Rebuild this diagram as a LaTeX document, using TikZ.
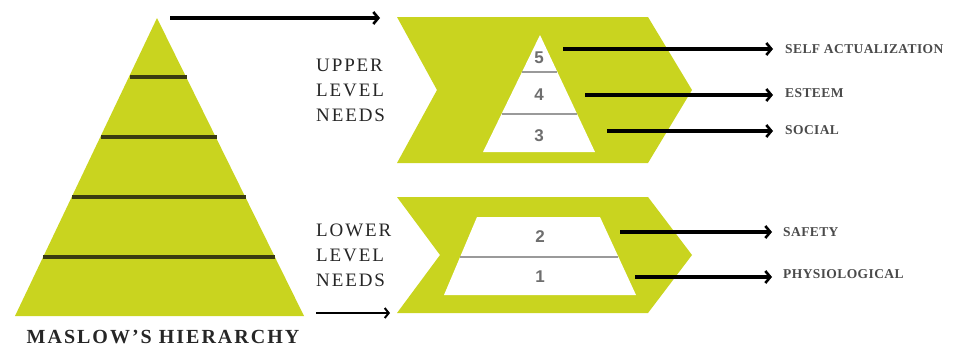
\documentclass[tikz,border=0pt]{standalone}
\usepackage{fontspec}
\setmainfont{Liberation Serif}
\newfontfamily\numfont{Liberation Sans}
\usetikzlibrary{arrows.meta}
\definecolor{lime}{HTML}{C9D41F}
\definecolor{olive}{HTML}{3A3C10}
\definecolor{divgrey}{HTML}{9A9A9A}
\definecolor{numgrey}{HTML}{6E6E6E}
\definecolor{labgrey}{HTML}{4A4A4A}
\tikzset{
  limefill/.style={fill=lime, draw=none},
  whitefill/.style={fill=white, draw=none},
  bigdiv/.style={draw=olive, line width=3.5pt},
  smalldiv/.style={draw=divgrey, line width=2pt},
  conn/.style={draw=black, line width=3.2pt, -{Straight Barb[length=5pt,width=12pt,line width=2.6pt]}},
  thinconn/.style={draw=black, line width=2pt, -{Straight Barb[length=4pt,width=10pt,line width=2pt]}},
  needs/.style={font=\fontsize{19}{25}\selectfont\addfontfeature{LetterSpace=10}, text=black!85, align=left, anchor=west, inner sep=0pt},
  lab/.style={font=\fontsize{13.5}{16}\selectfont\bfseries\addfontfeature{LetterSpace=3}, text=labgrey, anchor=west, inner sep=0pt},
  num/.style={font=\fontsize{17}{17}\selectfont\numfont\bfseries, text=numgrey, inner sep=0pt},
  title/.style={font=\fontsize{20}{22}\selectfont\bfseries\addfontfeature{LetterSpace=10}, text=black!85, inner sep=0pt}
}
\begin{document}
\begin{tikzpicture}[x=1pt,y=-1pt]
\useasboundingbox (0,0) rectangle (958,349);
% big pyramid
\path[limefill] (157,18) -- (304,316) -- (15,316) -- cycle;
\draw[bigdiv] (130,77) -- (187,77);
\draw[bigdiv] (101,137) -- (217,137);
\draw[bigdiv] (72,197) -- (246,197);
\draw[bigdiv] (43,257) -- (275,257);
\coordinate (apexR) at (170,18);
\coordinate (baseR) at (316,313);
\node[title] (maslow) at (163,337) {MASLOW’S HIERARCHY};
% upper chevron
\path[limefill] (397,17) -- (648,17) -- (692,90) -- (648,163) -- (397,163) -- (437,90) -- cycle;
\path[whitefill] (540,35) -- (595,152) -- (483,152) -- cycle;
\draw[smalldiv] (522,72) -- (557,72);
\draw[smalldiv] (502,114) -- (577,114);
\node[num] (n5) at (539,58) {5};
\node[num] (n4) at (539,95) {4};
\node[num] (n3) at (539,136) {3};
% lower chevron
\path[limefill] (397,197) -- (648,197) -- (692,255) -- (648,313) -- (397,313) -- (440,255) -- cycle;
\path[whitefill] (477,217) -- (600,217) -- (636,295) -- (444,295) -- cycle;
\draw[smalldiv] (460,257) -- (618,257);
\node[num] (n2) at (540,237) {2};
\node[num] (n1) at (540,277) {1};
% left texts
\node[needs] (upper) at (316,90) {UPPER\\LEVEL\\NEEDS};
\node[needs] (lower) at (316,255) {LOWER\\LEVEL\\NEEDS};
% entry arrows
\coordinate (upIn) at (380,18);
\coordinate (lowIn) at (390,313);
\draw[conn] (apexR) -- (upIn);
\draw[thinconn] (baseR) -- (lowIn);
% right labels
\node[lab] (self) at (785,49) {SELF ACTUALIZATION};
\node[lab] (esteem) at (785,93) {ESTEEM};
\node[lab] (social) at (785,130) {SOCIAL};
\node[lab] (safety) at (783,232) {SAFETY};
\node[lab] (phys) at (783,274) {PHYSIOLOGICAL};
\coordinate (s5) at (563,49);
\coordinate (s4) at (585,95);
\coordinate (s3) at (607,131);
\coordinate (s2) at (620,232);
\coordinate (s1) at (635,277);
\draw[conn] (s5) -- ([xshift=-12pt]self.west |- s5);
\draw[conn] (s4) -- ([xshift=-12pt]esteem.west |- s4);
\draw[conn] (s3) -- ([xshift=-12pt]social.west |- s3);
\draw[conn] (s2) -- ([xshift=-11pt]safety.west |- s2);
\draw[conn] (s1) -- ([xshift=-11pt]phys.west |- s1);
\end{tikzpicture}
\end{document}
